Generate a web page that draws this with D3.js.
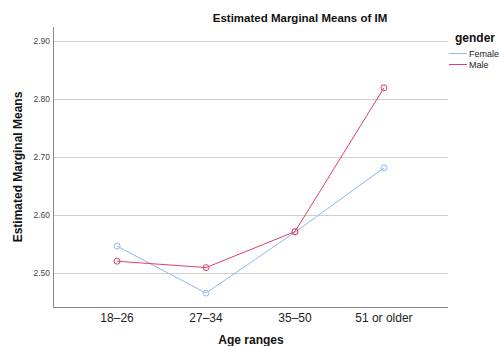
<!DOCTYPE html>
<html>
<head>
<meta charset="utf-8">
<script src="https://cdn.jsdelivr.net/npm/d3@7"></script>
<style>
body { margin: 0; background: #fff; }
text { font-family: "Liberation Sans", Arial, sans-serif; }
</style>
</head>
<body>
<svg width="499" height="346"></svg>
<script>
var WIDTH = 499;
var HEIGHT = 346;

var ageRanges = ['18-26', '27-34', '35-50', '51 or older'];
var genders = ['Female', 'Male'];
var female = [2.547, 2.466, 2.571, 2.682];
var male = [2.521, 2.510, 2.572, 2.820];
var yTicks = [2.50, 2.60, 2.70, 2.80, 2.90];
var colors = ['#8fb8f0', '#df3f66'];

var plotLeft = 53, plotRight = 448, plotTop = 27, plotBottom = 307;
var svg = d3.select('svg');

var xScale = d3.scalePoint()
    .domain(ageRanges)
    .range([plotLeft, plotRight])
    .padding(0.72);
var yScale = d3.scaleLinear()
    .domain([2.442, 2.925])
    .range([plotBottom, plotTop]);

// gridlines
svg.append('g').selectAll('line')
    .data(yTicks)
    .enter()
    .append('line')
    .attr('x1', plotLeft)
    .attr('x2', plotRight)
    .attr('y1', function(d){ return Math.round(yScale(d)) + 0.5; })
    .attr('y2', function(d){ return Math.round(yScale(d)) + 0.5; })
    .attr('stroke', '#cfcfcf')
    .attr('stroke-width', 1);

// y labels
svg.append('g').selectAll('text')
    .data(yTicks)
    .enter()
    .append('text')
    .attr('x', 50)
    .attr('y', function(d){ return yScale(d) + 3; })
    .attr('text-anchor', 'end')
    .attr('font-size', 8.5)
    .attr('fill', '#444')
    .text(function(d){ return d.toFixed(2); });

// axes lines
svg.append('line')
    .attr('x1', plotLeft + 0.5).attr('x2', plotLeft + 0.5)
    .attr('y1', plotTop).attr('y2', plotBottom)
    .attr('stroke', '#888');
svg.append('line')
    .attr('x1', plotLeft).attr('x2', plotRight)
    .attr('y1', plotBottom + 0.5).attr('y2', plotBottom + 0.5)
    .attr('stroke', '#888');

// x labels
svg.append('g').selectAll('text')
    .data(ageRanges)
    .enter()
    .append('text')
    .attr('x', function(d){ return xScale(d); })
    .attr('y', 322)
    .attr('text-anchor', 'middle')
    .attr('font-size', 12)
    .attr('fill', '#222')
    .text(function(d){ return d.replace('-', '\u2013'); });

var series = [female, male];
var line = d3.line()
    .x(function(d, i){ return xScale(ageRanges[i]); })
    .y(function(d){ return yScale(d); });

series.forEach(function(values, s){
    svg.append('path')
        .datum(values)
        .attr('d', line)
        .attr('fill', 'none')
        .attr('stroke', colors[s])
        .attr('stroke-width', 1);
    svg.append('g').selectAll('circle')
        .data(values)
        .enter()
        .append('circle')
        .attr('cx', function(d, i){ return xScale(ageRanges[i]); })
        .attr('cy', function(d){ return yScale(d); })
        .attr('r', 3)
        .attr('fill', 'none')
        .attr('stroke', colors[s])
        .attr('stroke-width', 1);
});

// titles
svg.append('text')
    .attr('x', 300).attr('y', 22)
    .attr('text-anchor', 'middle')
    .attr('font-size', 11.5)
    .attr('font-weight', 'bold')
    .attr('fill', '#111')
    .text('Estimated Marginal Means of IM');
svg.append('text')
    .attr('x', 251).attr('y', 344)
    .attr('text-anchor', 'middle')
    .attr('font-size', 12)
    .attr('font-weight', 'bold')
    .attr('fill', '#111')
    .text('Age ranges');
svg.append('text')
    .attr('transform', 'translate(22,167) rotate(-90)')
    .attr('text-anchor', 'middle')
    .attr('font-size', 12)
    .attr('font-weight', 'bold')
    .attr('fill', '#111')
    .text('Estimated Marginal Means');

// legend
svg.append('text')
    .attr('x', 455).attr('y', 42)
    .attr('font-size', 12)
    .attr('font-weight', 'bold')
    .attr('fill', '#111')
    .text('gender');
var legend = svg.append('g').selectAll('g')
    .data(genders)
    .enter()
    .append('g')
    .attr('transform', function(d, i){ return 'translate(449,' + (53.5 + i * 11) + ')'; });
legend.append('line')
    .attr('x1', 0).attr('x2', 18)
    .attr('stroke', function(d, i){ return colors[i]; });
legend.append('text')
    .attr('x', 20).attr('y', 3.5)
    .attr('font-size', 9)
    .attr('fill', '#222')
    .text(function(d){ return d; });
</script>
</body>
</html>
